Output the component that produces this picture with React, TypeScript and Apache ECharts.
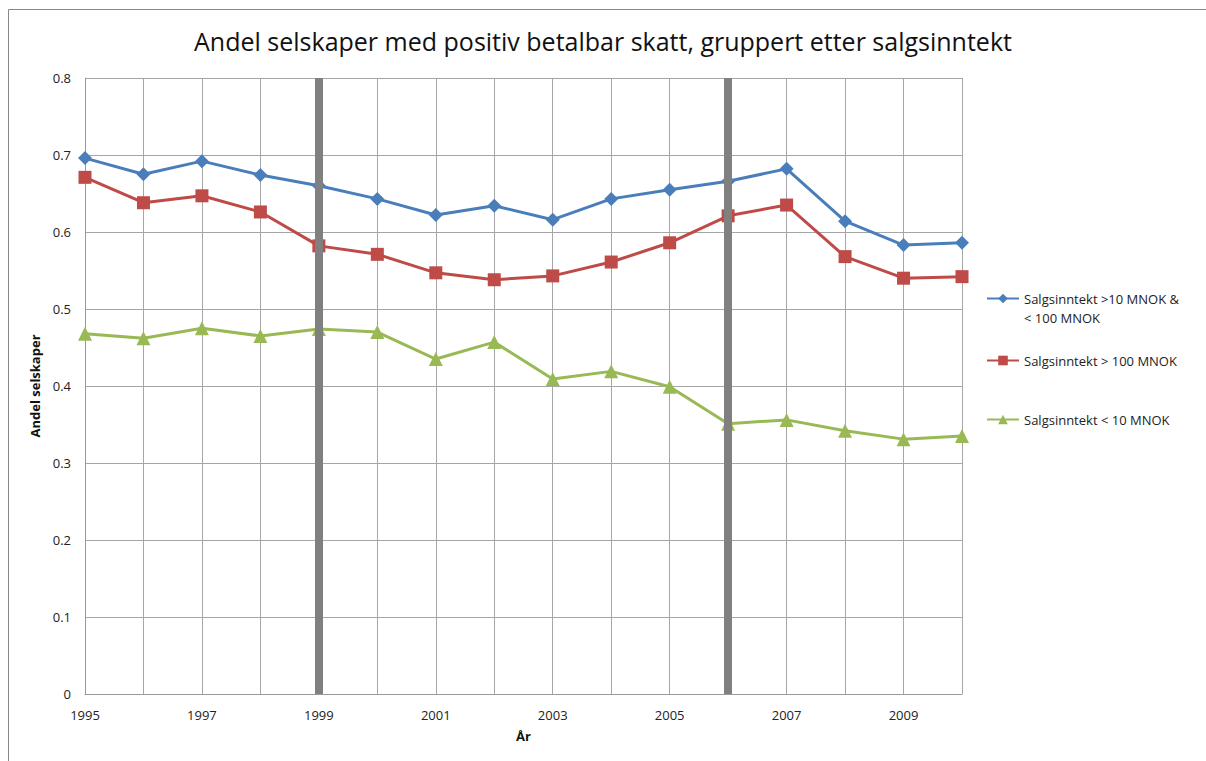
import React, { useEffect, useRef } from "react";
import * as echarts from "echarts";

const years = ["1995","1996","1997","1998","1999","2000","2001","2002","2003","2004","2005","2006","2007","2008","2009","2010"];
const midName = "Salgsinntekt >10 MNOK &\n< 100 MNOK";
const bigName = "Salgsinntekt > 100 MNOK";
const smallName = "Salgsinntekt < 10 MNOK";
const midValues = [0.696,0.675,0.692,0.674,0.660,0.643,0.622,0.634,0.616,0.643,0.655,0.666,0.682,0.614,0.583,0.586];
const bigValues = [0.671,0.638,0.647,0.626,0.582,0.571,0.547,0.538,0.543,0.561,0.586,0.621,0.635,0.568,0.540,0.542];
const smallValues = [0.468,0.462,0.475,0.465,0.474,0.470,0.435,0.457,0.409,0.419,0.399,0.351,0.356,0.342,0.331,0.335];
const markerYears = ["1999", "2006"];

const FONT = "'Open Sans', 'Noto Sans', sans-serif";

export default function App() {
  const ref = useRef<HTMLDivElement>(null);
  useEffect(() => {
    const chart = echarts.init(ref.current!, null, { renderer: "svg" });
    const legendBase = {
      orient: "vertical",
      left: 986,
      padding: 0,
      itemWidth: 32,
      itemHeight: 12,
      itemGap: 6,
      textStyle: { fontFamily: FONT, fontSize: 13, color: "#222", lineHeight: 19 },
    };
    chart.setOption({
      animation: false,
      backgroundColor: "#fff",
      title: {
        text: "Andel selskaper med positiv betalbar skatt, gruppert etter salgsinntekt",
        left: "center",
        top: 23,
        textStyle: { fontFamily: FONT, fontSize: 25, fontWeight: "normal", color: "#111" },
      },
      graphic: [
        { type: "rect", shape: { x: 8.5, y: 9.5, width: 1300, height: 800 }, style: { fill: "none", stroke: "#888", lineWidth: 1 }, silent: true },
      ],
      legend: [
        { ...legendBase, top: 270, data: [midName], formatter: (n: string) => "\n" + n },
        { ...legendBase, top: 351, data: [bigName] },
        { ...legendBase, top: 410, data: [smallName] },
      ],
      grid: { left: 85, right: 244, top: 78, bottom: 67 },
      xAxis: {
        type: "category",
        data: years,
        boundaryGap: false,
        name: "År",
        nameLocation: "middle",
        nameGap: 35,
        nameTextStyle: { fontFamily: FONT, fontSize: 13, fontWeight: "bold", color: "#111" },
        axisLine: { lineStyle: { color: "#999" } },
        axisTick: { show: false },
        axisLabel: { interval: 1, fontFamily: FONT, fontSize: 13, color: "#222", margin: 14 },
        splitLine: { show: true, interval: 0, lineStyle: { color: "#a6a6a6" } },
      },
      yAxis: {
        type: "value",
        min: 0,
        max: 0.8,
        interval: 0.1,
        name: "Andel selskaper",
        nameLocation: "middle",
        nameGap: 44,
        nameTextStyle: { fontFamily: FONT, fontSize: 13, fontWeight: "bold", color: "#111" },
        axisLine: { show: true, lineStyle: { color: "#999" } },
        axisTick: { show: false },
        axisLabel: { fontFamily: FONT, fontSize: 13, color: "#222", margin: 14, formatter: (v: number) => (v === 0 ? "0" : v.toFixed(1)) },
        splitLine: { lineStyle: { color: "#a6a6a6" } },
      },
      series: [
        {
          type: "line",
          name: "markers",
          data: years.map(() => null),
          z: 1,
          silent: true,
          markLine: {
            silent: true,
            symbol: "none",
            label: { show: false },
            lineStyle: { color: "#808080", width: 8, type: "solid" },
            data: markerYears.map((y) => ({ xAxis: y })),
          },
        },
        {
          type: "line",
          name: midName,
          data: midValues,
          z: 3,
          symbol: "diamond",
          symbolSize: 14,
          color: "#4a7ebb",
          lineStyle: { width: 3 },
        },
        {
          type: "line",
          name: bigName,
          data: bigValues,
          z: 3,
          symbol: "rect",
          symbolSize: 13,
          color: "#be4b48",
          lineStyle: { width: 3 },
        },
        {
          type: "line",
          name: smallName,
          data: smallValues,
          z: 3,
          symbol: "triangle",
          symbolSize: 14,
          color: "#98b954",
          lineStyle: { width: 3 },
        },
      ],
    });
    return () => chart.dispose();
  }, []);
  return <div ref={ref} style={{ position: "fixed", left: 0, top: 0, width: 1206, height: 761 }} />;
}
